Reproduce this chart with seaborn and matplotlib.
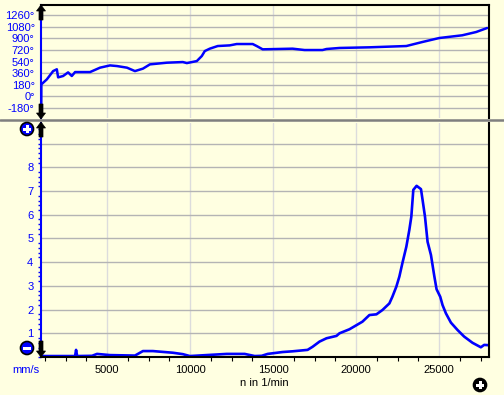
import numpy as np
import pandas as pd
import matplotlib
matplotlib.use("Agg")
import matplotlib.pyplot as plt
import seaborn as sns
from matplotlib.ticker import MultipleLocator, FixedLocator
from matplotlib.patches import Circle, Rectangle, Polygon
from matplotlib.lines import Line2D
from matplotlib.transforms import IdentityTransform

# ---------------- data ----------------
phase_rpm = [1040, 1045, 1376, 1755, 1977, 2055, 2356, 2656, 2879, 3077, 3979, 4580,
             5181, 5601, 6202, 6683, 7164, 7585, 8606, 9568, 9808, 10409, 10710,
             10890, 11190, 11671, 12392, 12813, 13775, 14015, 14376, 16179, 16900,
             17982, 18222, 19004, 20807, 23030, 23992, 25014, 26396, 27237, 27899]
phase_deg = [-150, 186, 264, 392, 420, 295, 316, 372, 316, 377, 377, 445,
             480, 470, 445, 392, 430, 496, 522, 532, 516, 547, 625,
             702, 739, 780, 790, 811, 811, 780, 729, 739, 718,
             718, 734, 750, 760, 780, 842, 904, 946, 997, 1059]

vel_rpm = [1040, 3077, 3137, 3200, 4099, 4399, 5181, 6683, 7164, 7765, 8967, 9568,
           9989, 12212, 13294, 13895, 14316, 14677, 15578, 16179, 17081, 17381,
           17802, 18222, 18823, 19004, 19605, 20386, 20807, 21228, 21588, 22009,
           22189, 22430, 22610, 22790, 23030, 23211, 23331, 23451, 23649, 23913,
           24010, 24154, 24310, 24514, 24713, 24851, 25073, 25212, 25416, 25716,
           26113, 26515, 27014, 27519, 27718, 27958]
vel_mms = [0.04, 0.04, 0.30, 0.04, 0.05, 0.13, 0.08, 0.06, 0.25, 0.25, 0.18, 0.12,
           0.04, 0.13, 0.13, 0.04, 0.05, 0.13, 0.21, 0.24, 0.30, 0.43,
           0.65, 0.79, 0.89, 1.00, 1.17, 1.49, 1.77, 1.80, 1.98, 2.26,
           2.54, 2.97, 3.39, 3.95, 4.65, 5.36, 5.92, 7.05, 7.22, 7.08,
           6.62, 5.92, 4.86, 4.30, 3.42, 2.86, 2.54, 2.19, 1.84, 1.45,
           1.14, 0.86, 0.60, 0.41, 0.51, 0.50]

phase_ticks = [-180, 0, 180, 360, 540, 720, 900, 1080, 1260]
phase_tick_labels = ["-180°", "0°", "180°", "360°", "540°", "720°", "900°", "1080°", "1260°"]
vel_ticks = [1, 2, 3, 4, 5, 6, 7, 8]
x_ticks = [5000, 10000, 15000, 20000, 25000]
x_label = "n in 1/min"
y_unit = "mm/s"

# ---------------- style ----------------
sns.set_style("white")
plt.rcParams["font.family"] = ["Liberation Sans", "DejaVu Sans"]
plt.rcParams["font.size"] = 8

BG = "#FFFFE1"
BLUE = "#0000FF"
HGRID = "#B4B4B4"
VGRID = "#DCDCDC"
W, H = 504, 395

fig = plt.figure(figsize=(W / 100, H / 100), dpi=100, facecolor=BG)

def ax_rect(x0, y0, x1, y1):
    return [x0 / W, 1 - y1 / H, (x1 - x0) / W, (y1 - y0) / H]

ax1 = fig.add_axes(ax_rect(41, 5, 489, 118))
ax2 = fig.add_axes(ax_rect(41, 123, 489, 357))
XLIM = (1024, 28010)

df_phase = pd.DataFrame({"rpm": phase_rpm, "deg": phase_deg})
df_vel = pd.DataFrame({"rpm": vel_rpm, "mms": vel_mms})

sns.lineplot(data=df_phase, x="rpm", y="deg", ax=ax1, color=BLUE, lw=1.8,
             sort=False, estimator=None)
sns.lineplot(data=df_vel, x="rpm", y="mms", ax=ax2, color=BLUE, lw=1.9,
             sort=False, estimator=None)

for ax in (ax1, ax2):
    ax.set_facecolor(BG)
    ax.set_xlim(*XLIM)
    ax.set_xlabel("")
    ax.set_ylabel("")
    ax.xaxis.set_major_locator(FixedLocator(x_ticks))
    ax.xaxis.set_minor_locator(MultipleLocator(1250))
    ax.grid(False)
    for x in x_ticks:
        ax.axvline(x, color=VGRID, lw=1.0, zorder=0)

# top panel
ax1.set_ylim(-334, 1415)
ax1.set_yticks(phase_ticks)
ax1.set_yticklabels(phase_tick_labels)
for y in phase_ticks:
    ax1.axhline(y, color=HGRID, lw=1.0, zorder=0)
ax1.tick_params(axis="x", which="both", bottom=False, labelbottom=False)
ax1.tick_params(axis="y", which="major", colors=BLUE, labelcolor=BLUE,
                length=3, width=1, pad=1.5, direction="out")
ax1.spines["left"].set_color(BLUE)
ax1.spines["left"].set_linewidth(1.5)
ax1.spines["top"].set_color("black")
ax1.spines["top"].set_linewidth(1.5)
ax1.spines["right"].set_color("black")
ax1.spines["right"].set_linewidth(1.5)
ax1.spines["bottom"].set_visible(False)

# bottom panel
ax2.set_ylim(0, 9.87)
ax2.set_yticks(vel_ticks)
ax2.yaxis.set_minor_locator(MultipleLocator(0.2))
for y in vel_ticks + [9]:
    ax2.axhline(y, color=HGRID, lw=1.0, zorder=0)
ax2.tick_params(axis="y", which="major", colors=BLUE, labelcolor=BLUE,
                length=4, width=1, pad=1.5, direction="out")
ax2.tick_params(axis="y", which="minor", colors=BLUE, length=2, width=1,
                direction="out", left=True)
ax2.tick_params(axis="x", which="major", colors="black", length=3, width=1,
                direction="out", pad=3)
ax2.tick_params(axis="x", which="minor", colors="black", length=3, width=0.8,
                direction="out", bottom=True)
ax2.spines["left"].set_color(BLUE)
ax2.spines["left"].set_linewidth(1.5)
ax2.spines["bottom"].set_color("black")
ax2.spines["bottom"].set_linewidth(1.5)
ax2.spines["right"].set_color("black")
ax2.spines["right"].set_linewidth(1.5)
ax2.spines["top"].set_visible(False)

# ---------------- decorations (pixel coordinates) ----------------
T = IdentityTransform()

def P(x, y):
    return (x, H - y)

fig.add_artist(Line2D([0, W], [H - 120, H - 120], transform=T,
                      color="#7F7F7F", lw=1.8))

def arrow(x, y_tip, y_tail):
    d = 1 if y_tail > y_tip else -1
    head = 6
    pts = [P(x, y_tip), P(x + 4.5, y_tip + d * head), P(x + 2, y_tip + d * head),
           P(x + 2, y_tail), P(x - 2, y_tail), P(x - 2, y_tip + d * head),
           P(x - 4.5, y_tip + d * head)]
    fig.add_artist(Polygon(pts, closed=True, transform=T, facecolor="black",
                           edgecolor="black", lw=0.5, zorder=10))

arrow(41, 5, 20)
arrow(41, 119, 104)
arrow(41, 122, 137)
arrow(41, 357, 341)

def button(x, y, face, plus=True):
    fig.add_artist(Circle(P(x, y), 6.5, transform=T, facecolor=face,
                          edgecolor="black", lw=1.2, zorder=10))
    fig.add_artist(Rectangle(P(x - 4, y + 1.5), 8, 3, transform=T,
                             facecolor="white", edgecolor="none", zorder=11))
    if plus:
        fig.add_artist(Rectangle(P(x - 1.5, y + 4), 3, 8, transform=T,
                                 facecolor="white", edgecolor="none", zorder=11))

button(27, 129, BLUE, plus=True)
button(27, 348, BLUE, plus=False)
button(480, 385, "black", plus=True)

fig.text(26 / W, 1 - 370 / H, y_unit, color=BLUE, ha="center", va="center",
         fontsize=8)
fig.text(264 / W, 1 - 383 / H, x_label, color="black", ha="center", va="center",
         fontsize=8)

fig.savefig("out.png", dpi=100, facecolor=BG)
